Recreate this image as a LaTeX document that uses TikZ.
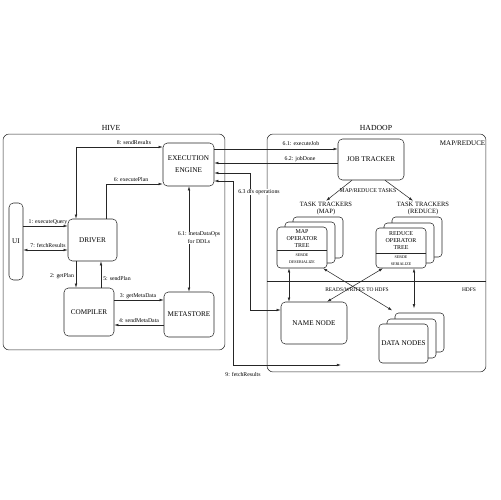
\documentclass[tikz,border=0pt]{standalone}
\usepackage{fontspec}
\setmainfont{Liberation Serif}
\usetikzlibrary{arrows.meta}
\begin{document}
\begin{tikzpicture}[x=0.02cm,y=-0.02cm, line width=0.3pt, draw=black!85,
  >={Latex[length=2.4pt,width=1.5pt]},
  box/.style={draw=black!85, rounded corners=2.5pt, fill=white, inner sep=0pt, align=center, font=\fontsize{4.1}{6.8}\selectfont},
  card/.style={draw=black!85, rounded corners=2pt, fill=white, inner sep=0pt, minimum width=1.0cm},
  lbl/.style={inner sep=0.3pt, font=\fontsize{3.3}{4.5}\selectfont, align=center},
  ttl/.style={inner sep=0pt, font=\fontsize{4.4}{5}\selectfont},
  cardtxt/.style={inner sep=0pt, align=center, font=\fontsize{3.4}{4.25}\selectfont},
  serdetxt/.style={inner sep=0pt, align=center, font=\fontsize{2.3}{4}\selectfont},
  trk/.style={inner sep=0.5pt, align=center, font=\fontsize{3.7}{4.2}\selectfont}]
\useasboundingbox (0,0) rectangle (500,500);

% containers
\node[box, minimum width=4.44cm, minimum height=4.32cm, rounded corners=3.5pt] (hive) at (114,242) {};
\node[ttl] (hivet) at (111,128) {HIVE};
\node[box, minimum width=4.38cm, minimum height=4.76cm, rounded corners=3.5pt] (hadoop) at (376.5,253) {};
\node[ttl] (hadoopt) at (376,128) {HADOOP};
\node[inner sep=0pt, anchor=east, font=\fontsize{4}{5}\selectfont] (mrl) at (485.5,143) {MAP/REDUCE};
\draw (hadoop.west |- 0,281) -- (hadoop.east |- 0,281);
\node[lbl, font=\fontsize{3.1}{4}\selectfont] (hdfsl) at (469,290) {HDFS};

% HIVE nodes
\node[box, minimum width=1.02cm, minimum height=0.86cm] (exec) at (188.5,164.5) {EXECUTION\\ENGINE};
\node[box, minimum width=0.98cm, minimum height=0.84cm] (driver) at (92.5,240) {DRIVER};
\node[box, minimum width=0.28cm, minimum height=1.54cm] (ui) at (16,241.5) {UI};
\node[box, minimum width=1.00cm, minimum height=0.96cm] (compiler) at (89,312) {COMPILER};
\node[box, minimum width=1.00cm, minimum height=0.90cm] (metastore) at (189,314.5) {METASTORE};

% HADOOP nodes
\node[box, minimum width=1.32cm, minimum height=0.82cm] (jobtracker) at (371,159.5) {JOB TRACKER};
\node[box, minimum width=1.32cm, minimum height=0.84cm] (namenode) at (314,323) {NAME NODE};
\node[card, minimum width=0.98cm, minimum height=0.78cm] (dnb) at (419.5,332.5) {};
\node[card, minimum width=0.98cm, minimum height=0.78cm] (dnm) at (411.5,338.5) {};
\node[card, minimum width=0.98cm, minimum height=0.78cm, font=\fontsize{4.1}{5}\selectfont] (dnf) at (403.5,343.5) {DATA NODES};

\node[trk] (mapttl) at (326,208.5) {TASK TRACKERS\\(MAP)};
\node[trk] (redttl) at (423,208.5) {TASK TRACKERS\\(REDUCE)};

\node[card, minimum height=0.82cm] (mapb) at (318,237.5) {};
\node[card, minimum height=0.82cm] (mapm) at (310,242.5) {};
\node[card, minimum height=0.82cm] (mapf) at (302,247.5) {};
\draw (mapf.west |- 0,250) -- (mapf.east |- 0,250);
\node[cardtxt] (mapt) at (302,238.5) {MAP\\OPERATOR\\TREE};
\node[serdetxt] (maps) at (302,258.5) {SERDE\\DESERIALIZE};

\node[card, minimum height=0.80cm] (redb) at (417,237) {};
\node[card, minimum height=0.80cm] (redm) at (409,243) {};
\node[card, minimum height=0.80cm] (redf) at (401,248) {};
\draw (redf.west |- 0,253) -- (redf.east |- 0,253);
\node[cardtxt] (redt) at (401,240.5) {REDUCE\\OPERATOR\\TREE};
\node[serdetxt] (reds) at (401,260.5) {SERDE\\SERIALIZE};

% HIVE connectors
\draw[<->] (driver.north -| 76,0) |- (exec.west |- 0,147);
\node[lbl] (l8) at (134,143) {8: sendResults};
\draw[->] (driver.north -| 106,0) |- (exec.west |- 0,184);
\node[lbl] (l6) at (131,180) {6: executePlan};
\draw[->] (ui.east |- 0,226) -- (driver.west |- 0,226);
\node[lbl] (l1) at (48,222) {1: executeQuery};
\draw[<->] (ui.east |- 0,250) -- (driver.west |- 0,250);
\node[lbl] (l7) at (48,245.5) {7: fetchResults};
\draw[->] (driver.south -| 76,0) -- (compiler.north -| 76,0);
\node[lbl] (l2) at (62,276) {2: getPlan};
\draw[->] (compiler.north -| 101,0) -- (driver.south -| 101,0);
\node[lbl] (l5) at (117,279) {5: sendPlan};
\draw[->] (compiler.east |- 0,300) -- (metastore.west |- 0,300);
\node[lbl] (l3) at (138,296) {3: getMetaData};
\draw[->] (metastore.west |- 0,325) -- (compiler.east |- 0,325);
\node[lbl] (l4) at (139,321) {4: sendMetaData};
\draw[<->] (exec.south -| 189,0) -- (metastore.north -| 189,0);
\node[lbl, fill=white] (l61) at (199,238) {6.1: metaDataOps\\for DDLs};

% HIVE <-> HADOOP
\draw[->] (exec.east |- 0,149) -- (jobtracker.west |- 0,149);
\node[lbl] (l61j) at (301,144) {6.1: executeJob};
\draw[->] (jobtracker.west |- 0,163) -- (exec.east |- 0,163);
\node[lbl] (l62) at (300,159) {6.2: jobDone};
\draw[<->] (namenode.west |- 0,310) -| (250,173) -- (exec.east |- 0,173);
\node[lbl, fill=white] (l63) at (259,192) {6.3 dfs operations};
\coordinate (fr) at (341,365);
\draw[<->] (exec.east |- 0,181) -| (233,365) -- (fr);
\node[lbl] (l9) at (243,374) {9: fetchResults};

% HADOOP connectors
\draw[->] (jobtracker.south -| 352,0) -- (mapttl.north);
\draw[->] (jobtracker.south -| 385,0) -- (redttl.north -| 413,0);
\node[lbl] (mrt) at (368,191) {MAP/REDUCE TASKS};
\draw[<->] (mapf.south -| 289,0) -- (namenode.north -| 289,0);
\draw[<->, shorten >=2.5pt] (redf.south -| 414,0) -- (dnb.north -| 414,0);
\draw[<->, shorten >=2.5pt] (mapf.south -| 323,0) -- (dnb.north -| 396,0);
\draw[<->] (redf.south -| 383,0) -- (namenode.north -| 327,0);
\node[lbl, font=\fontsize{3.1}{4}\selectfont] (rw) at (357,290) {READS/WRITES TO HDFS};
\end{tikzpicture}
\end{document}
